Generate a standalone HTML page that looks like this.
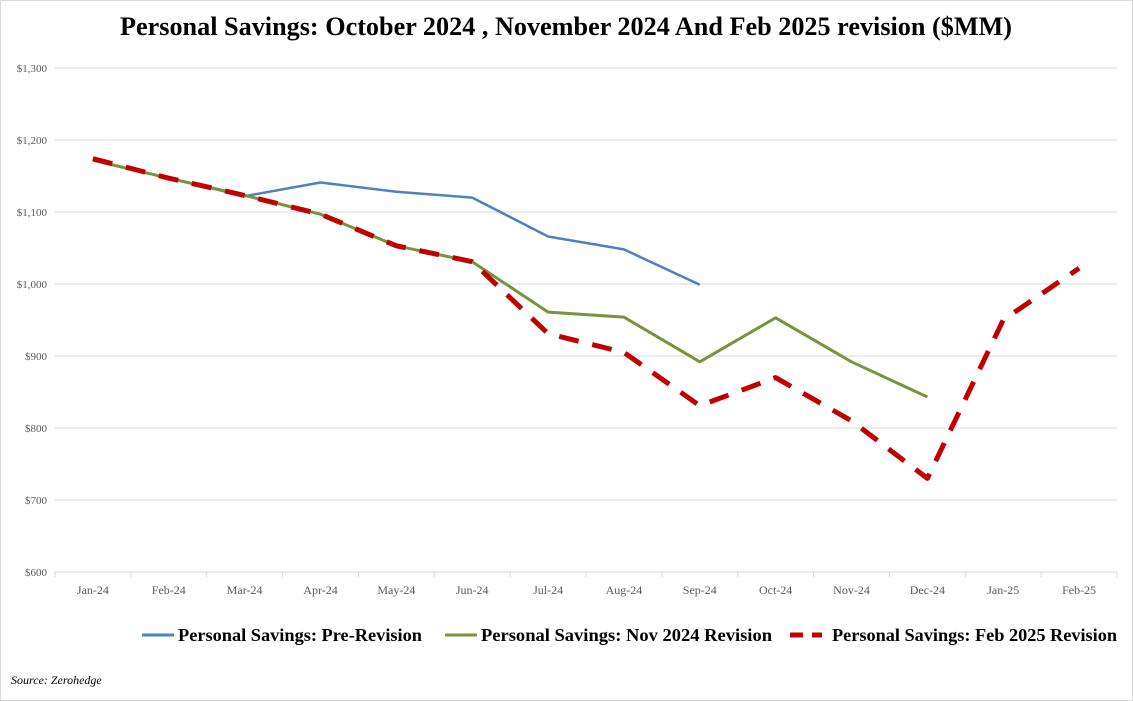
<!DOCTYPE html>
<html><head><meta charset="utf-8">
<style>
html,body{margin:0;padding:0;background:#fff;}
body{width:1133px;height:701px;overflow:hidden;position:relative;font-family:"Liberation Serif",serif;}
#frame{position:absolute;left:0;top:0;width:1131px;height:699px;border:1px solid #d9d9d9;}
</style></head>
<body>
<div id="frame"></div>
<svg id="chart" width="1133" height="701" style="position:absolute;left:0;top:0"></svg>
<script>
const categories=["Jan-24","Feb-24","Mar-24","Apr-24","May-24","Jun-24","Jul-24","Aug-24","Sep-24","Oct-24","Nov-24","Dec-24","Jan-25","Feb-25"];
const preRevision=[1172,1147,1122,1141,1128,1120,1066,1048,999];
const nov2024Revision=[1172,1147,1123,1097,1053,1031,961,954,892,953,892,843];
const feb2025Revision=[1174,1147,1123,1097,1053,1031,931,905,831,870,810,730,950,1022];
const yTicks=[600,700,800,900,1000,1100,1200,1300];
const yTickLabels=["$600","$700","$800","$900","$1,000","$1,100","$1,200","$1,300"];

const NS="http://www.w3.org/2000/svg";
const svg=document.getElementById('chart');
const L=55,R=1117,T=68,B=572,yMin=600,yMax=1300;
const band=(R-L)/categories.length;
function xPos(i){return L+band*(i+0.5);}
function yPos(v){return B-(v-yMin)/(yMax-yMin)*(B-T);}
function mk(tag,attrs,parent){const e=document.createElementNS(NS,tag);for(const k in attrs)e.setAttribute(k,attrs[k]);(parent||svg).appendChild(e);return e;}

const title=mk('text',{x:566,y:35,'text-anchor':'middle','font-size':'26','font-weight':'bold',fill:'#000','font-family':'Liberation Serif, serif',textLength:'892',lengthAdjust:'spacingAndGlyphs'});
title.textContent='Personal Savings: October 2024 , November 2024 And Feb 2025 revision ($MM)';



yTicks.forEach((v,i)=>{
  if(i>0){const g=mk('line',{x1:L,x2:R,y1:yPos(v),y2:yPos(v),stroke:'#d9d9d9','stroke-width':1});
  
  }
  const t=mk('text',{x:47,y:yPos(v)+4,'text-anchor':'end','font-size':'11',fill:'#595959'});
  t.textContent=yTickLabels[i];
  
  
});
const ax=mk('line',{x1:L,x2:R,y1:B,y2:B,stroke:'#d9d9d9','stroke-width':1});


for(let i=0;i<=categories.length;i++){
  const tk=mk('line',{x1:L+band*i,x2:L+band*i,y1:B,y2:B+5,stroke:'#d9d9d9'});
  
  
}
categories.forEach((c,i)=>{
  const t=mk('text',{x:xPos(i),y:594,'text-anchor':'middle','font-size':'12',fill:'#595959'});
  t.textContent=c;
  
  
});

function series(arr,color,w,dash,name){
  const pts=arr.map((v,i)=>xPos(i).toFixed(1)+','+yPos(v).toFixed(1)).join(' ');
  const a={points:pts,fill:'none',stroke:color,'stroke-width':w,'stroke-linejoin':'round'};
  if(dash){a['stroke-dasharray']=dash;}
  const p=mk('polyline',a);
  
  
}
series(preRevision,'#4f81bd',2.5,null,'pre-revision-line');
series(nov2024Revision,'#77933c',3,null,'nov-2024-revision-line');
series(feb2025Revision,'#c00000',5,'20 14','feb-2025-revision-line');

function legend(x,tx,tw,color,w,dash,label,name){
  const g=mk('g',{});
  
  
  const a={x1:x,x2:x+32,y1:635,y2:635,stroke:color,'stroke-width':w};
  if(dash)a['stroke-dasharray']=dash;
  mk('line',a,g);
  const t=mk('text',{x:tx,y:641,'font-size':'18','font-weight':'bold',fill:'#000',textLength:tw,lengthAdjust:'spacingAndGlyphs'},g);
  t.textContent=label;
}
legend(142,178,244,'#4f81bd',3,null,'Personal Savings: Pre-Revision','legend-pre-revision');
legend(445,481,291,'#77933c',3,null,'Personal Savings: Nov 2024 Revision','legend-nov-2024-revision');
legend(790,832,285,'#c00000',5,'13 9','Personal Savings: Feb 2025 Revision','legend-feb-2025-revision');

const src=mk('text',{x:11,y:684,'font-size':'12','font-style':'italic',fill:'#000'});
src.textContent='Source: Zerohedge';


</script>
</body></html>
